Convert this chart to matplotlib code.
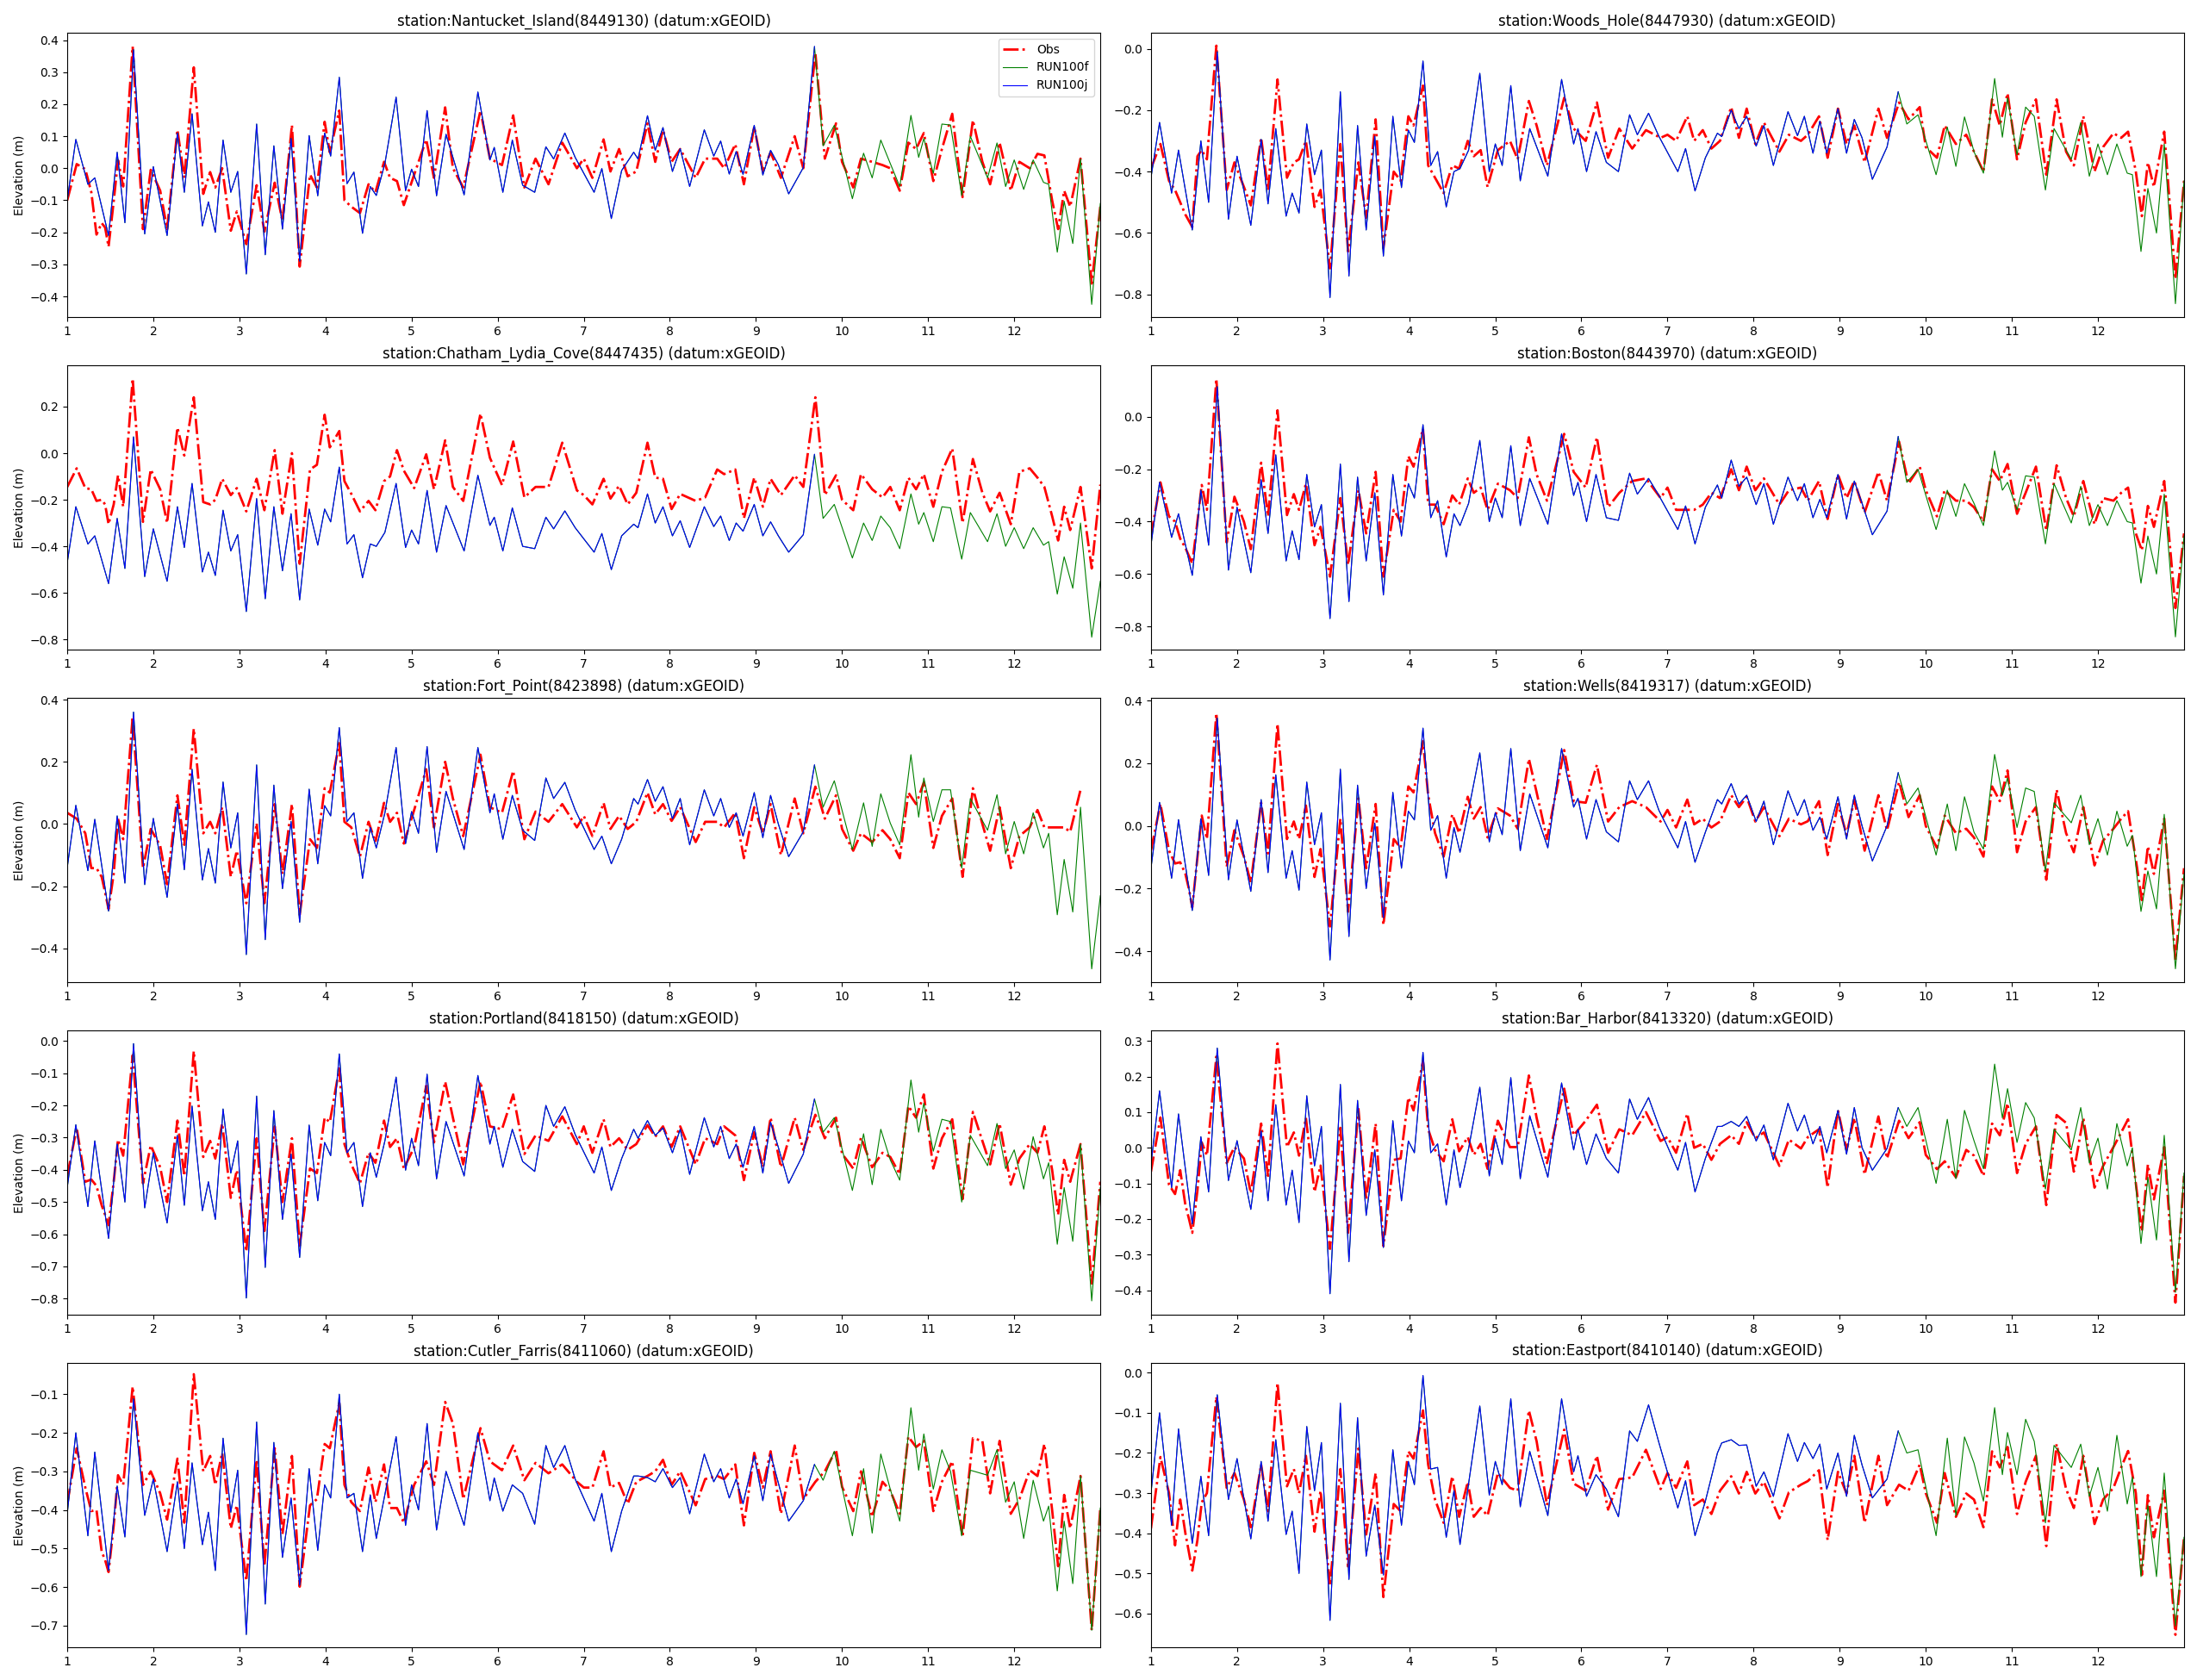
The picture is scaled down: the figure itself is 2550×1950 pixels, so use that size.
import numpy as np
import matplotlib
matplotlib.use("Agg")
import matplotlib.pyplot as plt

# time of model extrema (days), shared by all stations
t_mod = [1.00, 1.10, 1.24, 1.32, 1.48, 1.58, 1.67, 1.77, 1.90, 2.00,
         2.16, 2.28, 2.36, 2.45, 2.57, 2.64, 2.72, 2.81, 2.90, 2.98,
         3.08, 3.20, 3.30, 3.40, 3.50, 3.60, 3.70, 3.81, 3.91, 3.99,
         4.06, 4.16, 4.25, 4.33, 4.43, 4.52, 4.59, 4.69, 4.82, 4.93,
         5.00, 5.08, 5.18, 5.29, 5.40, 5.61, 5.77, 5.91, 5.96, 6.06,
         6.17, 6.29, 6.43, 6.56, 6.65, 6.78, 6.90, 7.12, 7.21, 7.32,
         7.44, 7.58, 7.63, 7.74, 7.83, 7.92, 8.03, 8.12, 8.23, 8.40,
         8.51, 8.59, 8.69, 8.77, 8.85, 8.98, 9.08, 9.17, 9.26, 9.38,
         9.55, 9.68, 9.78, 9.91, 10.12, 10.25, 10.35, 10.45, 10.56, 10.67,
         10.80, 10.89, 10.95, 11.06, 11.16, 11.26, 11.39, 11.49, 11.69, 11.80,
         11.90, 12.00, 12.11, 12.22, 12.34, 12.40, 12.50, 12.58, 12.68, 12.77,
         12.90, 13.00]

# time of observed extrema (days)
t_obs = [1.00, 1.11, 1.21, 1.28, 1.34, 1.40, 1.44, 1.48, 1.54, 1.59,
         1.65, 1.76, 1.88, 1.97, 2.08, 2.16, 2.28, 2.36, 2.47, 2.58,
         2.66, 2.72, 2.80, 2.90, 2.97, 3.08, 3.20, 3.29, 3.41, 3.50,
         3.61, 3.70, 3.82, 3.90, 3.99, 4.05, 4.16, 4.22, 4.30, 4.40,
         4.50, 4.58, 4.68, 4.75, 4.83, 4.91, 5.03, 5.17, 5.26, 5.39,
         5.48, 5.60, 5.80, 5.91, 6.05, 6.18, 6.31, 6.44, 6.59, 6.75,
         6.92, 7.00, 7.10, 7.23, 7.31, 7.41, 7.51, 7.61, 7.74, 7.83,
         7.92, 8.02, 8.12, 8.30, 8.41, 8.55, 8.63, 8.76, 8.86, 8.98,
         9.08, 9.17, 9.29, 9.45, 9.55, 9.69, 9.80, 9.93, 10.00, 10.13,
         10.22, 10.35, 10.47, 10.56, 10.67, 10.77, 10.86, 10.95, 11.06, 11.16,
         11.28, 11.40, 11.52, 11.63, 11.72, 11.83, 11.96, 12.06, 12.18, 12.27,
         12.35, 12.44, 12.51, 12.58, 12.65, 12.77, 12.90, 13.00]

run100j_end = 9.72

nantucket_obs = [-0.10, 0.013, -0.003, -0.075, -0.207, -0.171, -0.185, -0.245, -0.103, 0.025,
                 -0.057, 0.38, -0.19, -0.005, -0.07, -0.19, 0.12, -0.03, 0.315, -0.08,
                 -0.012, -0.06, 0.0, -0.195, -0.135, -0.237, -0.053, -0.198, -0.045, -0.165,
                 0.135, -0.307, -0.02, -0.06, 0.145, 0.05, 0.18, -0.10, -0.12, -0.14,
                 -0.05, -0.075, 0.02, -0.03, -0.04, -0.115, -0.02, 0.09, -0.03, 0.19,
                 0.0, -0.06, 0.18, 0.03, 0.01, 0.165, -0.06, 0.03, -0.05, 0.08,
                 0.0, 0.03, -0.03, 0.09, -0.01, 0.06, -0.025, -0.01, 0.14, 0.02,
                 0.12, 0.02, 0.06, -0.03, 0.03, 0.03, 0.0, 0.075, -0.05, 0.13,
                 -0.01, 0.05, -0.03, 0.10, 0.0, 0.36, 0.03, 0.14, 0.02, -0.06,
                 0.03, 0.02, 0.01, 0.0, -0.07, 0.08, 0.06, 0.11, -0.04, 0.06,
                 0.17, -0.09, 0.15, 0.02, -0.05, 0.08, -0.07, 0.02, 0.0, 0.045,
                 0.04, -0.10, -0.19, -0.07, -0.12, 0.03, -0.36, -0.12]
nantucket_mod = [-0.10, 0.09, -0.05, -0.03, -0.21, 0.05, -0.17, 0.37, -0.205, 0.005,
                 -0.21, 0.11, -0.075, 0.17, -0.18, -0.105, -0.20, 0.088, -0.075, -0.01,
                 -0.33, 0.138, -0.27, 0.07, -0.19, 0.093, -0.29, 0.102, -0.086, 0.11,
                 0.038, 0.284, -0.048, -0.012, -0.203, -0.057, -0.085, 0.015, 0.222, -0.07,
                 -0.003, -0.057, 0.18, -0.086, 0.106, -0.083, 0.238, 0.026, 0.065, -0.075,
                 0.088, -0.053, -0.075, 0.067, 0.029, 0.11, 0.034, -0.075, -0.001, -0.157,
                 -0.007, 0.05, 0.029, 0.164, 0.056, 0.127, -0.01, 0.061, -0.057, 0.12,
                 0.038, 0.085, -0.018, 0.052, -0.019, 0.134, -0.021, 0.056, 0.011, -0.08,
                 0.002, 0.38, 0.07, 0.134, -0.095, 0.047, -0.03, 0.088, 0.015, -0.057,
                 0.165, 0.034, 0.093, -0.016, 0.138, 0.135, -0.085, 0.1, -0.03, 0.079,
                 -0.057, 0.026, -0.066, 0.026, -0.044, -0.05, -0.262, -0.103, -0.235, 0.029,
                 -0.425, -0.11]

woods_obs = [-0.39, -0.31, -0.43, -0.46, -0.50, -0.54, -0.56, -0.58, -0.35, -0.33,
             -0.36, 0.01, -0.46, -0.37, -0.45, -0.51, -0.29, -0.46, -0.10, -0.42,
             -0.37, -0.36, -0.30, -0.515, -0.46, -0.715, -0.31, -0.66, -0.37, -0.55,
             -0.23, -0.65, -0.40, -0.43, -0.22, -0.25, -0.12, -0.38, -0.42, -0.47,
             -0.38, -0.39, -0.30, -0.35, -0.33, -0.45, -0.33, -0.30, -0.36, -0.17,
             -0.25, -0.38, -0.16, -0.26, -0.30, -0.175, -0.355, -0.26, -0.325, -0.265,
             -0.29, -0.28, -0.30, -0.22, -0.30, -0.265, -0.325, -0.30, -0.19, -0.29,
             -0.195, -0.31, -0.24, -0.335, -0.28, -0.30, -0.28, -0.22, -0.355, -0.195,
             -0.31, -0.25, -0.37, -0.195, -0.29, -0.175, -0.23, -0.19, -0.32, -0.355,
             -0.25, -0.31, -0.28, -0.335, -0.40, -0.165, -0.25, -0.145, -0.36, -0.24,
             -0.165, -0.41, -0.165, -0.335, -0.38, -0.22, -0.40, -0.32, -0.275, -0.29,
             -0.27, -0.40, -0.545, -0.37, -0.45, -0.27, -0.75, -0.43]
woods_mod = [-0.42, -0.24, -0.47, -0.33, -0.59, -0.30, -0.50, -0.01, -0.555, -0.35,
             -0.575, -0.295, -0.505, -0.26, -0.545, -0.47, -0.535, -0.245, -0.41, -0.33,
             -0.81, -0.14, -0.74, -0.25, -0.59, -0.285, -0.675, -0.22, -0.452, -0.265,
             -0.305, -0.04, -0.38, -0.335, -0.515, -0.40, -0.39, -0.33, -0.08, -0.40,
             -0.31, -0.38, -0.12, -0.43, -0.26, -0.415, -0.10, -0.31, -0.26, -0.40,
             -0.27, -0.37, -0.40, -0.215, -0.28, -0.21, -0.285, -0.40, -0.325, -0.463,
             -0.355, -0.275, -0.286, -0.20, -0.26, -0.22, -0.317, -0.25, -0.38, -0.205,
             -0.283, -0.22, -0.34, -0.236, -0.34, -0.195, -0.34, -0.23, -0.29, -0.425,
             -0.32, -0.14, -0.245, -0.215, -0.41, -0.255, -0.383, -0.222, -0.335, -0.405,
             -0.097, -0.288, -0.16, -0.345, -0.19, -0.22, -0.46, -0.26, -0.36, -0.24,
             -0.415, -0.31, -0.41, -0.31, -0.405, -0.41, -0.66, -0.455, -0.60, -0.31,
             -0.83, -0.43]

chatham_obs = [-0.145, -0.065, -0.15, -0.155, -0.205, -0.20, -0.22, -0.305, -0.22, -0.095,
               -0.23, 0.32, -0.295, -0.07, -0.155, -0.30, 0.11, -0.01, 0.24, -0.21,
               -0.22, -0.20, -0.11, -0.18, -0.15, -0.25, -0.11, -0.245, 0.013, -0.26,
               0.0, -0.475, -0.07, -0.05, 0.165, 0.025, 0.095, -0.12, -0.175, -0.25,
               -0.205, -0.245, -0.12, -0.10, 0.013, -0.075, -0.15, -0.005, -0.155, 0.055,
               -0.145, -0.205, 0.17, -0.02, -0.137, 0.05, -0.19, -0.145, -0.145, 0.045,
               -0.16, -0.18, -0.22, -0.11, -0.195, -0.14, -0.22, -0.17, 0.045, -0.105,
               -0.11, -0.24, -0.175, -0.205, -0.19, -0.07, -0.09, -0.07, -0.28, -0.105,
               -0.23, -0.11, -0.18, -0.095, -0.145, 0.24, -0.18, -0.095, -0.20, -0.245,
               -0.09, -0.155, -0.19, -0.145, -0.245, -0.105, -0.155, -0.09, -0.23, -0.08,
               0.02, -0.30, -0.025, -0.17, -0.25, -0.17, -0.305, -0.08, -0.065, -0.105,
               -0.145, -0.27, -0.375, -0.23, -0.33, -0.145, -0.495, -0.135]
chatham_mod = [-0.47, -0.23, -0.39, -0.355, -0.56, -0.28, -0.495, 0.07, -0.53, -0.325,
               -0.55, -0.23, -0.405, -0.13, -0.51, -0.425, -0.525, -0.245, -0.42, -0.35,
               -0.68, -0.195, -0.625, -0.23, -0.505, -0.26, -0.63, -0.24, -0.395, -0.24,
               -0.295, -0.06, -0.39, -0.35, -0.535, -0.39, -0.40, -0.34, -0.13, -0.405,
               -0.33, -0.39, -0.16, -0.425, -0.225, -0.42, -0.095, -0.31, -0.275, -0.42,
               -0.235, -0.40, -0.41, -0.275, -0.325, -0.248, -0.32, -0.425, -0.345, -0.50,
               -0.355, -0.305, -0.32, -0.175, -0.30, -0.23, -0.355, -0.29, -0.405, -0.23,
               -0.315, -0.27, -0.375, -0.30, -0.335, -0.22, -0.355, -0.295, -0.355, -0.425,
               -0.35, -0.005, -0.28, -0.22, -0.45, -0.30, -0.375, -0.27, -0.32, -0.41,
               -0.175, -0.305, -0.255, -0.38, -0.23, -0.235, -0.455, -0.255, -0.38, -0.26,
               -0.40, -0.32, -0.41, -0.32, -0.395, -0.38, -0.605, -0.445, -0.58, -0.30,
               -0.79, -0.55]

boston_obs = [-0.455, -0.25, -0.38, -0.40, -0.465, -0.50, -0.53, -0.56, -0.40, -0.26,
              -0.355, 0.145, -0.48, -0.305, -0.40, -0.505, -0.175, -0.38, 0.025, -0.375,
              -0.295, -0.355, -0.255, -0.49, -0.42, -0.61, -0.31, -0.565, -0.28, -0.445,
              -0.21, -0.61, -0.355, -0.40, -0.15, -0.19, -0.045, -0.335, -0.335, -0.41,
              -0.30, -0.335, -0.235, -0.29, -0.27, -0.355, -0.255, -0.28, -0.31, -0.078,
              -0.22, -0.32, -0.065, -0.21, -0.27, -0.078, -0.345, -0.29, -0.245, -0.235,
              -0.31, -0.27, -0.355, -0.355, -0.355, -0.335, -0.29, -0.31, -0.20, -0.28,
              -0.19, -0.28, -0.235, -0.335, -0.28, -0.27, -0.32, -0.245, -0.39, -0.22,
              -0.31, -0.245, -0.365, -0.21, -0.32, -0.095, -0.255, -0.19, -0.28, -0.38,
              -0.28, -0.32, -0.32, -0.345, -0.40, -0.20, -0.245, -0.18, -0.37, -0.29,
              -0.19, -0.435, -0.185, -0.31, -0.38, -0.245, -0.41, -0.31, -0.32, -0.29,
              -0.27, -0.445, -0.51, -0.34, -0.42, -0.245, -0.73, -0.445]
boston_mod = [-0.49, -0.25, -0.46, -0.37, -0.605, -0.28, -0.49, 0.115, -0.585, -0.345,
              -0.595, -0.24, -0.445, -0.145, -0.55, -0.435, -0.545, -0.22, -0.42, -0.335,
              -0.77, -0.18, -0.705, -0.23, -0.55, -0.29, -0.68, -0.22, -0.455, -0.255,
              -0.31, -0.03, -0.385, -0.32, -0.535, -0.37, -0.415, -0.33, -0.09, -0.40,
              -0.31, -0.385, -0.11, -0.415, -0.235, -0.41, -0.065, -0.30, -0.25, -0.40,
              -0.22, -0.385, -0.395, -0.215, -0.295, -0.235, -0.30, -0.43, -0.34, -0.485,
              -0.345, -0.26, -0.31, -0.165, -0.265, -0.23, -0.335, -0.255, -0.41, -0.23,
              -0.32, -0.255, -0.385, -0.315, -0.385, -0.22, -0.39, -0.245, -0.33, -0.45,
              -0.36, -0.075, -0.25, -0.20, -0.43, -0.28, -0.38, -0.255, -0.33, -0.415,
              -0.13, -0.28, -0.25, -0.355, -0.225, -0.23, -0.485, -0.255, -0.405, -0.265,
              -0.415, -0.335, -0.415, -0.32, -0.40, -0.405, -0.635, -0.455, -0.60, -0.295,
              -0.84, -0.455]

fortpoint_obs = [0.036, 0.017, -0.03, -0.142, -0.142, -0.17, -0.22, -0.274, -0.16, 0.017,
                 -0.049, 0.345, -0.142, -0.016, -0.07, -0.194, 0.092, -0.067, 0.307, -0.03,
                 0.007, -0.03, 0.054, -0.17, -0.086, -0.255, 0.003, -0.255, 0.064, -0.161,
                 0.064, -0.292, -0.049, -0.077, 0.115, 0.101, 0.26, 0.007, -0.011, -0.105,
                 0.007, -0.058, 0.068, 0.007, 0.036, -0.063, 0.045, 0.176, -0.011, 0.2,
                 0.082, -0.039, 0.223, 0.054, 0.036, 0.171, -0.049, 0.04, 0.007, 0.064,
                 -0.011, 0.026, -0.039, 0.068, -0.016, 0.026, -0.016, 0.007, 0.101, 0.031,
                 0.064, 0.01, 0.054, -0.058, 0.007, 0.007, -0.011, 0.036, -0.11, 0.054,
                 -0.03, 0.064, -0.10, 0.082, -0.03, 0.12, 0.017, 0.092, -0.016, -0.086,
                 -0.03, -0.058, -0.02, -0.049, -0.11, 0.101, 0.064, 0.134, -0.077, 0.026,
                 0.082, -0.17, 0.115, 0.0, -0.086, 0.054, -0.142, -0.039, -0.011, 0.045,
                 -0.011, -0.011, -0.011, -0.011, -0.025, 0.11, np.nan, np.nan]
fortpoint_mod = [-0.14, 0.06, -0.15, 0.015, -0.28, 0.026, -0.19, 0.36, -0.195, 0.018,
                 -0.236, 0.064, -0.147, 0.176, -0.18, -0.079, -0.19, 0.135, -0.077, 0.036,
                 -0.42, 0.19, -0.372, 0.125, -0.208, 0.008, -0.316, 0.112, -0.128, 0.059,
                 0.026, 0.31, 0.008, 0.036, -0.175, -0.011, -0.077, 0.036, 0.246, -0.063,
                 0.04, -0.03, 0.249, -0.091, 0.105, -0.082, 0.246, 0.036, 0.097, -0.049,
                 0.092, -0.02, -0.053, 0.148, 0.082, 0.134, 0.045, -0.082, -0.039, -0.128,
                 -0.049, 0.082, 0.064, 0.143, 0.073, 0.12, 0.017, 0.082, -0.067, 0.11,
                 0.026, 0.082, -0.011, 0.036, -0.039, 0.101, -0.044, 0.092, 0.0, -0.105,
                 -0.025, 0.19, 0.054, 0.139, -0.082, 0.068, -0.072, 0.097, 0.003, -0.067,
                 0.223, 0.022, 0.148, 0.008, 0.11, 0.11, -0.142, 0.082, -0.02, 0.094,
                 -0.096, 0.008, -0.096, 0.036, -0.077, -0.03, -0.292, -0.114, -0.283, 0.054,
                 -0.466, -0.231]

wells_obs = [-0.079, 0.07, -0.079, -0.12, -0.116, -0.153, -0.2, -0.26, -0.1, 0.033,
             -0.042, 0.36, -0.13, -0.014, -0.098, -0.181, 0.074, -0.088, 0.326, -0.042,
             0.014, -0.042, 0.065, -0.163, -0.074, -0.321, 0.023, -0.274, 0.088, -0.135,
             0.07, -0.316, -0.042, -0.07, 0.126, 0.107, 0.27, 0.098, -0.023, -0.098,
             0.037, -0.023, 0.093, 0.023, 0.06, -0.037, 0.056, 0.033, -0.009, 0.214,
             0.107, -0.042, 0.242, 0.079, 0.074, 0.195, 0.014, 0.06, 0.079, 0.06,
             0.014, 0.051, -0.005, 0.084, 0.005, 0.023, -0.005, 0.014, 0.098, 0.06,
             0.093, 0.014, 0.06, -0.033, 0.023, 0.005, 0.015, 0.079, -0.093, 0.07,
             -0.028, 0.084, -0.079, 0.098, -0.014, 0.14, 0.028, 0.098, 0.0, -0.07,
             0.033, -0.023, -0.009, -0.037, -0.098, 0.126, 0.079, 0.177, -0.084, 0.014,
             0.06, -0.172, 0.116, -0.023, -0.084, 0.06, -0.126, -0.047, -0.009, 0.023,
             0.047, -0.107, -0.237, -0.065, -0.153, 0.023, -0.428, -0.135]
wells_mod = [-0.135, 0.075, -0.167, 0.02, -0.27, 0.023, -0.158, 0.344, -0.172, 0.019,
             -0.209, 0.084, -0.149, 0.163, -0.167, -0.079, -0.205, 0.14, -0.06, 0.042,
             -0.428, 0.181, -0.353, 0.13, -0.2, 0.009, -0.293, 0.107, -0.135, 0.047,
             0.019, 0.312, -0.014, 0.033, -0.167, -0.005, -0.084, 0.051, 0.233, -0.051,
             0.042, -0.028, 0.247, -0.079, 0.102, -0.07, 0.247, 0.06, 0.088, -0.042,
             0.084, -0.019, -0.051, 0.144, 0.084, 0.144, 0.05, -0.07, 0.014, -0.116,
             -0.02, 0.084, 0.07, 0.135, 0.07, 0.098, 0.014, 0.079, -0.06, 0.112,
             0.033, 0.084, -0.014, 0.028, -0.042, 0.093, -0.042, 0.098, 0.0, -0.112,
             0.0, 0.17, 0.07, 0.121, -0.093, 0.07, -0.079, 0.093, -0.02, -0.074,
             0.228, 0.098, 0.153, -0.005, 0.121, 0.11, -0.144, 0.074, 0.01, 0.098,
             -0.06, 0.023, -0.093, 0.047, -0.065, -0.03, -0.273, -0.144, -0.265, 0.037,
             -0.456, -0.153]

portland_obs = [-0.419, -0.27, -0.437, -0.43, -0.45, -0.51, -0.54, -0.572, -0.437, -0.306,
                -0.356, -0.044, -0.442, -0.324, -0.392, -0.50, -0.247, -0.419, -0.031, -0.36,
                -0.31, -0.365, -0.256, -0.487, -0.401, -0.654, -0.302, -0.59, -0.265, -0.50,
                -0.302, -0.636, -0.396, -0.41, -0.238, -0.252, -0.085, -0.32, -0.383, -0.442,
                -0.347, -0.378, -0.247, -0.329, -0.302, -0.396, -0.33, -0.139, -0.315, -0.126,
                -0.238, -0.383, -0.126, -0.265, -0.274, -0.166, -0.351, -0.293, -0.31, -0.234,
                -0.32, -0.265, -0.347, -0.243, -0.329, -0.302, -0.338, -0.32, -0.261, -0.297,
                -0.265, -0.329, -0.265, -0.383, -0.302, -0.32, -0.265, -0.293, -0.432, -0.283,
                -0.392, -0.238, -0.392, -0.238, -0.338, -0.229, -0.302, -0.238, -0.35, -0.396,
                -0.30, -0.392, -0.347, -0.36, -0.414, -0.202, -0.238, -0.166, -0.396, -0.302,
                -0.243, -0.491, -0.22, -0.31, -0.383, -0.256, -0.446, -0.365, -0.32, -0.347,
                -0.265, -0.40, -0.54, -0.369, -0.437, -0.32, -0.753, -0.437]
portland_mod = [-0.455, -0.26, -0.514, -0.31, -0.613, -0.32, -0.50, -0.008, -0.518, -0.347,
                -0.565, -0.293, -0.51, -0.202, -0.527, -0.437, -0.554, -0.211, -0.41, -0.31,
                -0.798, -0.171, -0.703, -0.216, -0.554, -0.351, -0.672, -0.261, -0.496, -0.315,
                -0.356, -0.04, -0.347, -0.315, -0.514, -0.347, -0.423, -0.31, -0.112, -0.401,
                -0.302, -0.387, -0.103, -0.428, -0.25, -0.419, -0.107, -0.32, -0.265, -0.392,
                -0.274, -0.374, -0.405, -0.2, -0.265, -0.204, -0.29, -0.41, -0.329, -0.464,
                -0.365, -0.274, -0.302, -0.247, -0.293, -0.27, -0.347, -0.274, -0.414, -0.238,
                -0.329, -0.265, -0.365, -0.32, -0.392, -0.265, -0.41, -0.252, -0.33, -0.442,
                -0.351, -0.18, -0.283, -0.238, -0.464, -0.288, -0.446, -0.274, -0.369, -0.432,
                -0.121, -0.283, -0.193, -0.342, -0.243, -0.25, -0.50, -0.293, -0.387, -0.256,
                -0.396, -0.338, -0.46, -0.297, -0.428, -0.378, -0.631, -0.455, -0.622, -0.32,
                -0.807, -0.455]

barharbor_obs = [-0.067, 0.085, -0.104, -0.13, -0.063, -0.161, -0.198, -0.239, -0.12, 0.015,
                 -0.022, 0.256, -0.043, 0.002, -0.03, -0.128, 0.068, -0.079, 0.293, 0.002,
                 0.043, -0.022, 0.084, -0.124, -0.05, -0.284, 0.056, -0.239, 0.109, -0.145,
                 0.068, -0.276, -0.034, -0.03, 0.141, 0.105, 0.244, 0.052, -0.006, -0.038,
                 0.08, -0.01, 0.03, -0.02, 0.011, -0.059, 0.076, 0.002, 0.002, 0.203,
                 0.084, -0.043, 0.166, 0.035, 0.076, 0.121, -0.014, 0.052, 0.035, 0.10,
                 0.019, 0.03, -0.014, 0.096, 0.0, 0.011, -0.034, 0.011, 0.035, 0.011,
                 0.072, 0.027, 0.043, -0.051, 0.023, -0.002, 0.03, 0.052, -0.112, 0.105,
                 -0.006, 0.084, -0.075, 0.088, -0.03, 0.076, 0.027, 0.072, -0.02, -0.06,
                 -0.038, -0.083, -0.006, -0.022, -0.079, 0.068, 0.035, 0.125, -0.071, 0.011,
                 0.06, -0.161, 0.092, 0.07, -0.067, 0.084, -0.112, -0.051, 0.002, 0.043,
                 0.08, -0.10, -0.235, -0.047, -0.145, 0.002, -0.435, -0.079]
barharbor_mod = [-0.047, 0.16, -0.112, 0.095, -0.214, 0.031, -0.124, 0.28, -0.092, 0.02,
                 -0.173, 0.047, -0.149, 0.121, -0.161, -0.063, -0.21, 0.146, -0.051, 0.06,
                 -0.41, 0.178, -0.32, 0.133, -0.19, -0.006, -0.28, 0.076, -0.149, 0.019,
                 -0.014, 0.268, -0.014, 0.011, -0.161, -0.006, -0.112, -0.002, 0.17, -0.079,
                 0.027, -0.047, 0.197, -0.087, 0.09, -0.083, 0.182, -0.006, 0.052, -0.047,
                 0.039, -0.03, -0.071, 0.137, 0.08, 0.141, 0.06, -0.063, 0.015, -0.124,
                 -0.03, 0.06, 0.06, 0.074, 0.06, 0.088, 0.019, 0.064, -0.034, 0.125,
                 0.047, 0.092, 0.011, 0.06, -0.014, 0.105, -0.018, 0.113, 0.0, -0.063,
                 -0.002, 0.113, 0.06, 0.113, -0.1, 0.08, -0.087, 0.105, 0.02, -0.059,
                 0.235, 0.084, 0.166, 0.015, 0.127, 0.084, -0.116, 0.052, -0.006, 0.113,
                 -0.043, 0.027, -0.116, 0.068, -0.051, 0.0, -0.269, -0.083, -0.259, 0.035,
                 -0.406, -0.071]

cutler_obs = [-0.384, -0.24, -0.342, -0.403, -0.40, -0.508, -0.53, -0.561, -0.44, -0.31,
              -0.335, -0.08, -0.335, -0.30, -0.357, -0.425, -0.267, -0.433, -0.048, -0.30,
              -0.26, -0.335, -0.252, -0.448, -0.388, -0.584, -0.27, -0.546, -0.24, -0.463,
              -0.26, -0.599, -0.388, -0.372, -0.229, -0.24, -0.123, -0.335, -0.38, -0.403,
              -0.29, -0.38, -0.282, -0.395, -0.395, -0.433, -0.335, -0.274, -0.335, -0.12,
              -0.176, -0.372, -0.188, -0.274, -0.297, -0.233, -0.323, -0.278, -0.305, -0.282,
              -0.327, -0.342, -0.342, -0.248, -0.342, -0.33, -0.384, -0.327, -0.312, -0.30,
              -0.27, -0.335, -0.30, -0.388, -0.32, -0.312, -0.32, -0.282, -0.44, -0.252,
              -0.342, -0.248, -0.41, -0.233, -0.372, -0.327, -0.30, -0.244, -0.34, -0.403,
              -0.30, -0.418, -0.327, -0.35, -0.41, -0.21, -0.237, -0.221, -0.403, -0.327,
              -0.274, -0.47, -0.214, -0.221, -0.357, -0.221, -0.41, -0.372, -0.297, -0.312,
              -0.229, -0.40, -0.546, -0.361, -0.448, -0.312, -0.712, -0.395]
cutler_mod = [-0.41, -0.20, -0.467, -0.25, -0.557, -0.338, -0.47, -0.112, -0.414, -0.32,
              -0.508, -0.327, -0.50, -0.278, -0.49, -0.406, -0.557, -0.214, -0.406, -0.297,
              -0.723, -0.172, -0.644, -0.225, -0.523, -0.369, -0.595, -0.293, -0.505, -0.335,
              -0.369, -0.10, -0.369, -0.357, -0.508, -0.361, -0.474, -0.36, -0.21, -0.44,
              -0.335, -0.40, -0.176, -0.452, -0.30, -0.44, -0.20, -0.376, -0.317, -0.403,
              -0.335, -0.357, -0.437, -0.233, -0.29, -0.233, -0.32, -0.429, -0.357, -0.508,
              -0.403, -0.312, -0.312, -0.316, -0.327, -0.293, -0.342, -0.316, -0.41, -0.255,
              -0.327, -0.293, -0.369, -0.32, -0.384, -0.26, -0.376, -0.255, -0.33, -0.429,
              -0.376, -0.282, -0.323, -0.248, -0.467, -0.293, -0.46, -0.255, -0.346, -0.429,
              -0.135, -0.297, -0.203, -0.346, -0.244, -0.30, -0.467, -0.297, -0.31, -0.244,
              -0.38, -0.327, -0.474, -0.323, -0.429, -0.39, -0.61, -0.429, -0.591, -0.312,
              -0.712, -0.395]

eastport_obs = [-0.388, -0.21, -0.30, -0.43, -0.316, -0.40, -0.446, -0.493, -0.417, -0.323,
                -0.30, -0.06, -0.287, -0.25, -0.316, -0.385, -0.229, -0.345, -0.025, -0.283,
                -0.24, -0.301, -0.207, -0.396, -0.294, -0.53, -0.24, -0.483, -0.189, -0.403,
                -0.25, -0.559, -0.327, -0.345, -0.196, -0.214, -0.094, -0.229, -0.316, -0.374,
                -0.258, -0.359, -0.272, -0.359, -0.337, -0.356, -0.25, -0.287, -0.294, -0.094,
                -0.171, -0.33, -0.142, -0.276, -0.294, -0.207, -0.341, -0.265, -0.261, -0.192,
                -0.29, -0.25, -0.287, -0.221, -0.33, -0.316, -0.352, -0.294, -0.258, -0.301,
                -0.247, -0.301, -0.272, -0.363, -0.298, -0.279, -0.27, -0.243, -0.417, -0.247,
                -0.301, -0.207, -0.374, -0.207, -0.33, -0.279, -0.294, -0.229, -0.30, -0.374,
                -0.25, -0.359, -0.301, -0.316, -0.385, -0.196, -0.236, -0.185, -0.352, -0.272,
                -0.207, -0.432, -0.178, -0.29, -0.337, -0.207, -0.377, -0.316, -0.287, -0.236,
                -0.195, -0.30, -0.504, -0.305, -0.41, -0.294, -0.653, -0.41]
eastport_mod = [-0.30, -0.10, -0.38, -0.14, -0.425, -0.258, -0.406, -0.055, -0.316, -0.214,
                -0.414, -0.221, -0.37, -0.167, -0.403, -0.345, -0.50, -0.134, -0.294, -0.174,
                -0.617, -0.076, -0.515, -0.112, -0.457, -0.33, -0.504, -0.192, -0.38, -0.221,
                -0.279, -0.007, -0.24, -0.236, -0.41, -0.294, -0.428, -0.276, -0.083, -0.305,
                -0.221, -0.279, -0.065, -0.334, -0.196, -0.356, -0.065, -0.247, -0.207, -0.308,
                -0.254, -0.29, -0.359, -0.145, -0.171, -0.08, -0.174, -0.337, -0.269, -0.406,
                -0.32, -0.20, -0.175, -0.167, -0.181, -0.18, -0.283, -0.247, -0.308, -0.152,
                -0.221, -0.174, -0.214, -0.178, -0.29, -0.20, -0.308, -0.156, -0.23, -0.312,
                -0.265, -0.145, -0.20, -0.192, -0.406, -0.163, -0.356, -0.16, -0.225, -0.32,
                -0.087, -0.254, -0.149, -0.254, -0.116, -0.171, -0.374, -0.181, -0.236, -0.178,
                -0.308, -0.236, -0.345, -0.156, -0.327, -0.26, -0.508, -0.33, -0.508, -0.25,
                -0.631, -0.41]

titles = ["station:Nantucket_Island(8449130) (datum:xGEOID)",
          "station:Woods_Hole(8447930) (datum:xGEOID)",
          "station:Chatham_Lydia_Cove(8447435) (datum:xGEOID)",
          "station:Boston(8443970) (datum:xGEOID)",
          "station:Fort_Point(8423898) (datum:xGEOID)",
          "station:Wells(8419317) (datum:xGEOID)",
          "station:Portland(8418150) (datum:xGEOID)",
          "station:Bar_Harbor(8413320) (datum:xGEOID)",
          "station:Cutler_Farris(8411060) (datum:xGEOID)",
          "station:Eastport(8410140) (datum:xGEOID)"]

ylims = [(-0.465, 0.423), (-0.874, 0.052), (-0.844, 0.3775), (-0.889, 0.197),
         (-0.509, 0.406), (-0.499, 0.409), (-0.85, 0.0334), (-0.469, 0.330),
         (-0.756, -0.0185), (-0.684, 0.0247)]

obs_series = [nantucket_obs, woods_obs, chatham_obs, boston_obs, fortpoint_obs,
              wells_obs, portland_obs, barharbor_obs, cutler_obs, eastport_obs]
mod_series = [nantucket_mod, woods_mod, chatham_mod, boston_mod, fortpoint_mod,
              wells_mod, portland_mod, barharbor_mod, cutler_mod, eastport_mod]

fig, axes = plt.subplots(5, 2, figsize=(25.5, 19.5), dpi=100)
fig.subplots_adjust(left=0.0306, right=0.9941, bottom=0.0195, top=0.9805,
                    wspace=0.049, hspace=0.169)

tm = np.array(t_mod)
jmask = tm <= run100j_end

for i, ax in enumerate(axes.flat):
    mod = np.array(mod_series[i])
    ax.plot(t_obs, obs_series[i], 'r-.', lw=2, label='Obs')
    ax.plot(tm, mod, color='g', lw=0.8, label='RUN100f')
    ax.plot(tm[jmask], mod[jmask], color='b', lw=0.8, label='RUN100j')
    ax.set_title(titles[i], fontsize=12)
    ax.set_xlim(1, 13)
    ax.set_xticks(range(1, 13))
    ax.set_ylim(*ylims[i])
    if i % 2 == 0:
        ax.set_ylabel('Elevation (m)')
    if i == 0:
        ax.legend(loc='upper right')

fig.savefig('out.png', dpi=100)
